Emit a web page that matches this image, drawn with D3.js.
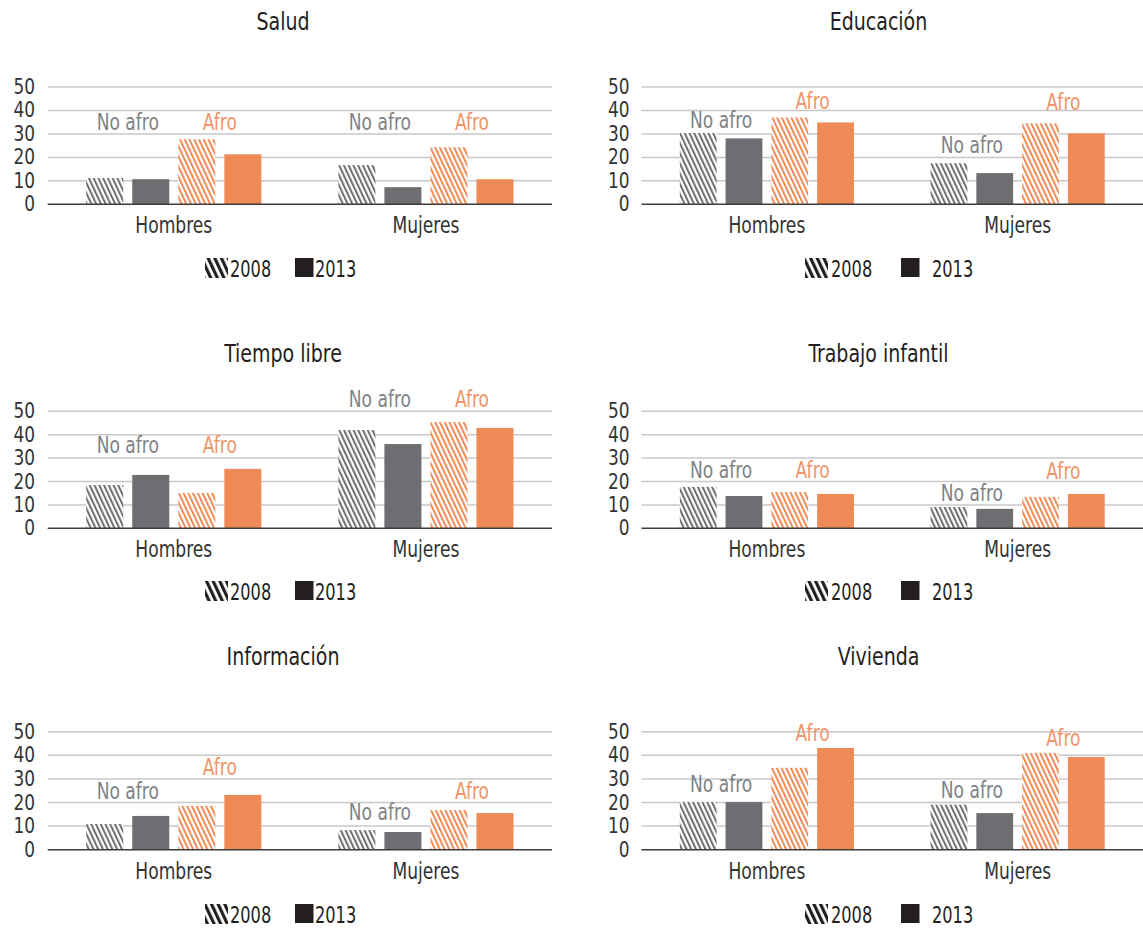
<!DOCTYPE html>
<html>
<head>
<meta charset="utf-8">
<script src="https://cdn.jsdelivr.net/npm/d3@7/dist/d3.min.js"></script>
<style>
  html, body { margin: 0; padding: 0; background: #ffffff; }
  svg text { font-family: 'DejaVu Sans Condensed', 'Liberation Sans Narrow', 'Roboto', sans-serif; }
</style>
</head>
<body>
<svg id="chart" width="1143" height="930"></svg>
<script>
// ---------------- DATA ----------------
const panels = ["Salud", "Educación", "Tiempo libre", "Trabajo infantil", "Información", "Vivienda"];
const categories = ["Hombres", "Mujeres"];
const seriesKeys = ["noAfro2008", "noAfro2013", "afro2008", "afro2013"];
const yTicks = [0, 10, 20, 30, 40, 50];
const legendLabels = ["2008", "2013"];
const groupLabels = ["No afro", "Afro"];

// values per panel: [Hombres, Mujeres]
const noAfro2008 = [[11.2, 16.7], [30.4, 17.5], [18.5, 42.0], [17.7, 9.1], [10.9, 8.3], [20.2, 19.1]];
const noAfro2013 = [[10.7, 7.3], [28.1, 13.3], [22.8, 36.0], [13.8, 8.3], [14.3, 7.5], [20.2, 15.5]];
const afro2008   = [[27.7, 24.3], [37.0, 34.5], [15.1, 45.4], [15.5, 13.4], [18.6, 16.8], [34.7, 41.0]];
const afro2013   = [[21.3, 10.7], [34.9, 30.2], [25.4, 42.9], [14.7, 14.7], [23.2, 15.5], [43.1, 39.3]];
// value at which the group annotation sits
const noAfroLabelAt = [[35, 35], [36, 25.1], [35.6, 55.1], [24.9, 15.2], [24.9, 16.1], [27.7, 25.4]];
const afroLabelAt   = [[35, 35], [44.2, 43.8], [35.6, 55.1], [24.9, 24.5], [34.9, 24.9], [49.4, 47.2]];

// ---------------- LAYOUT ----------------
const cols = [
  { x0: 47.7, x1: 552, tickX: 35, titleX: 283, leg: { hatch: 205, t1: 230, sq: 295, t2: 315 } },
  { x0: 641.5, x1: 1143, tickX: 629.5, titleX: 878.5, leg: { hatch: 805, t1: 831, sq: 901, t2: 932 } }
];
const rows = [
  { yTop: 87, yZero: 204.3, titleY: 30, catY: 233, legY: 277 },
  { yTop: 411.3, yZero: 528.3, titleY: 362, catY: 557, legY: 600 },
  { yTop: 731.7, yZero: 849.7, titleY: 665, catY: 879, legY: 923 }
];

const C = {
  gray: "#6d6e71", orange: "#ee8a55", grid: "#c8c8c8", axis: "#3c3c3c",
  text: "#333333", title: "#231f20", noAfroText: "#808285", afroText: "#f0956a", legend: "#231f20"
};
const FS = 22.5;
const SX = 0.845;

const svg = d3.select("#chart");
const defs = svg.append("defs");

// condensed text helper: real text, horizontally compressed
function ctext(parent, x, y, str, opts) {
  const o = Object.assign({ size: FS, sx: SX, anchor: "start", fill: C.text, weight: 400 }, opts || {});
  return parent.append("text")
    .attr("transform", `translate(${x},${y}) scale(${o.sx},1)`)
    .attr("text-anchor", o.anchor)
    .attr("font-size", o.size)
    .attr("font-weight", o.weight)
    .attr("fill", o.fill)
    .text(str);
}

function hatch(id, color, spacing, thick, angle) {
  const p = defs.append("pattern").attr("id", id)
    .attr("patternUnits", "userSpaceOnUse")
    .attr("width", spacing).attr("height", 20)
    .attr("patternTransform", `rotate(${angle})`);
  p.append("rect").attr("width", spacing).attr("height", 20).attr("fill", "#ffffff");
  p.append("rect").attr("x", 0).attr("y", 0).attr("width", thick).attr("height", 20).attr("fill", color);
}
hatch("hGray", C.gray, 4.3, 2.0, -25);
hatch("hOrange", C.orange, 4.3, 2.0, -25);
hatch("hLegend", C.legend, 6, 3.2, -25);

const fills = {
  noAfro2008: "url(#hGray)", noAfro2013: C.gray,
  afro2008: "url(#hOrange)", afro2013: C.orange
};
const seriesData = { noAfro2008, noAfro2013, afro2008, afro2013 };

panels.forEach((name, pi) => {
  const col = cols[pi % 2];
  const row = rows[Math.floor(pi / 2)];
  const g = svg.append("g");

  const y = d3.scaleLinear().domain([0, 50]).range([row.yZero, row.yTop]);
  const x0 = d3.scaleBand().domain(categories).range([col.x0, col.x1]).paddingInner(0).paddingOuter(0);
  const x1 = d3.scaleBand().domain(seriesKeys).range([0, x0.bandwidth()])
    .paddingInner(0.196).paddingOuter(0.837);

  // title
  ctext(g, col.titleX, row.titleY, name, { size: 24, sx: 0.88, anchor: "middle", fill: C.title });

  // gridlines
  g.selectAll("line.grid").data(yTicks.filter(t => t > 0)).join("line")
    .attr("x1", col.x0).attr("x2", col.x1)
    .attr("y1", d => y(d)).attr("y2", d => y(d))
    .attr("stroke", C.grid).attr("stroke-width", 1.5);

  // tick labels
  yTicks.forEach(t => {
    ctext(g, col.tickX, y(t) + 7, t, { size: 20.5, sx: 0.92, anchor: "end", fill: C.text });
  });

  // bars
  categories.forEach((cat, ci) => {
    seriesKeys.forEach(sk => {
      const v = seriesData[sk][pi][ci];
      g.append("rect")
        .attr("x", x0(cat) + x1(sk)).attr("width", x1.bandwidth())
        .attr("y", y(v)).attr("height", y(0) - y(v))
        .attr("fill", fills[sk]);
    });
    // group annotations
    const naMid = x0(cat) + (x1("noAfro2008") + x1("noAfro2013") + x1.bandwidth()) / 2;
    const afMid = x0(cat) + (x1("afro2008") + x1("afro2013") + x1.bandwidth()) / 2;
    ctext(g, naMid, y(noAfroLabelAt[pi][ci]) + 8, groupLabels[0], { anchor: "middle", fill: C.noAfroText });
    ctext(g, afMid, y(afroLabelAt[pi][ci]) + 8, groupLabels[1], { anchor: "middle", fill: C.afroText });
    // category label
    ctext(g, x0(cat) + x0.bandwidth() / 2, row.catY, cat, { anchor: "middle", fill: C.text });
  });

  // baseline
  g.append("line").attr("x1", col.x0).attr("x2", col.x1)
    .attr("y1", y(0)).attr("y2", y(0))
    .attr("stroke", C.axis).attr("stroke-width", 1.5);

  // legend
  const lg = g.append("g");
  lg.append("rect").attr("x", col.leg.hatch).attr("y", row.legY - 19).attr("width", 23).attr("height", 20)
    .attr("fill", "url(#hLegend)");
  ctext(lg, col.leg.t1, row.legY, legendLabels[0], { sx: 0.8, fill: C.legend });
  lg.append("rect").attr("x", col.leg.sq).attr("y", row.legY - 19).attr("width", 18.5).attr("height", 19)
    .attr("fill", C.legend);
  ctext(lg, col.leg.t2, row.legY, legendLabels[1], { sx: 0.8, fill: C.legend });
});
</script>
</body>
</html>
